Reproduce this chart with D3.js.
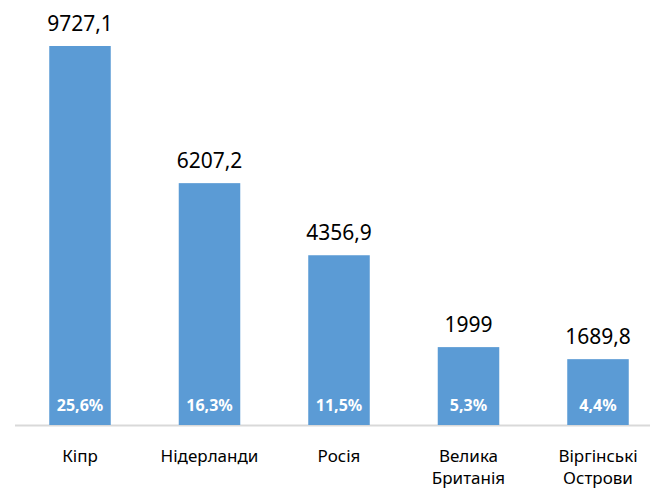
<!DOCTYPE html>
<html>
<head>
<meta charset="utf-8">
<script src="https://cdn.jsdelivr.net/npm/d3@7"></script>
<style>
  body { margin: 0; background: #fff; }
  text { font-family: "Noto Sans", sans-serif; }
</style>
</head>
<body>
<script>
var countries = [["Кіпр"], ["Нідерланди"], ["Росія"], ["Велика", "Британія"], ["Віргінські", "Острови"]],
    values = [9727.1, 6207.2, 4356.9, 1999, 1689.8],
    shares = ["25,6%", "16,3%", "11,5%", "5,3%", "4,4%"];

var W = 655, H = 488,
    base = 425;

var x = d3.scaleBand().domain(d3.range(values.length)).range([15.25, 662.75]).paddingInner(0.525).paddingOuter(0.2625),
    y = d3.scaleLinear().domain([0, 9727.1]).range([base, 46]);

var fmt = function(v) { return String(v).replace(".", ","); };

var svg = d3.select("body").append("svg")
    .attr("width", W)
    .attr("height", H);

// axis line
svg.append("line")
    .attr("x1", 15).attr("x2", 650)
    .attr("y1", base + 0.5).attr("y2", base + 0.5)
    .style("stroke", "#d9d9d9")
    .style("stroke-width", 2);

var g = svg.selectAll(".bar")
    .data(values)
  .enter().append("g")
    .attr("class", "bar");

g.append("rect")
    .attr("x", function(d, i) { return x(i); })
    .attr("y", function(d) { return y(d); })
    .attr("width", x.bandwidth())
    .attr("height", function(d) { return base - y(d); })
    .style("fill", "#5b9bd5");

g.append("text")
    .attr("x", function(d, i) { return x(i) + x.bandwidth() / 2; })
    .attr("y", function(d) { return y(d) - 15; })
    .attr("text-anchor", "middle")
    .style("font-size", "21px")
    .style("fill", "#000")
    .text(fmt);

g.append("text")
    .attr("x", function(d, i) { return x(i) + x.bandwidth() / 2; })
    .attr("y", base - 14)
    .attr("text-anchor", "middle")
    .style("font-size", "16px")
    .style("font-weight", "bold")
    .style("fill", "#fff")
    .text(function(d, i) { return shares[i]; });

// category labels, one text per line
countries.forEach(function(lines, i) {
  svg.selectAll(null)
      .data(lines)
    .enter().append("text")
      .attr("x", x(i) + x.bandwidth() / 2)
      .attr("y", function(d, j) { return 462 + j * 22; })
      .attr("text-anchor", "middle")
      .style("font-size", "17px")
      .style("fill", "#000")
      .text(String);
});
</script>
</body>
</html>
